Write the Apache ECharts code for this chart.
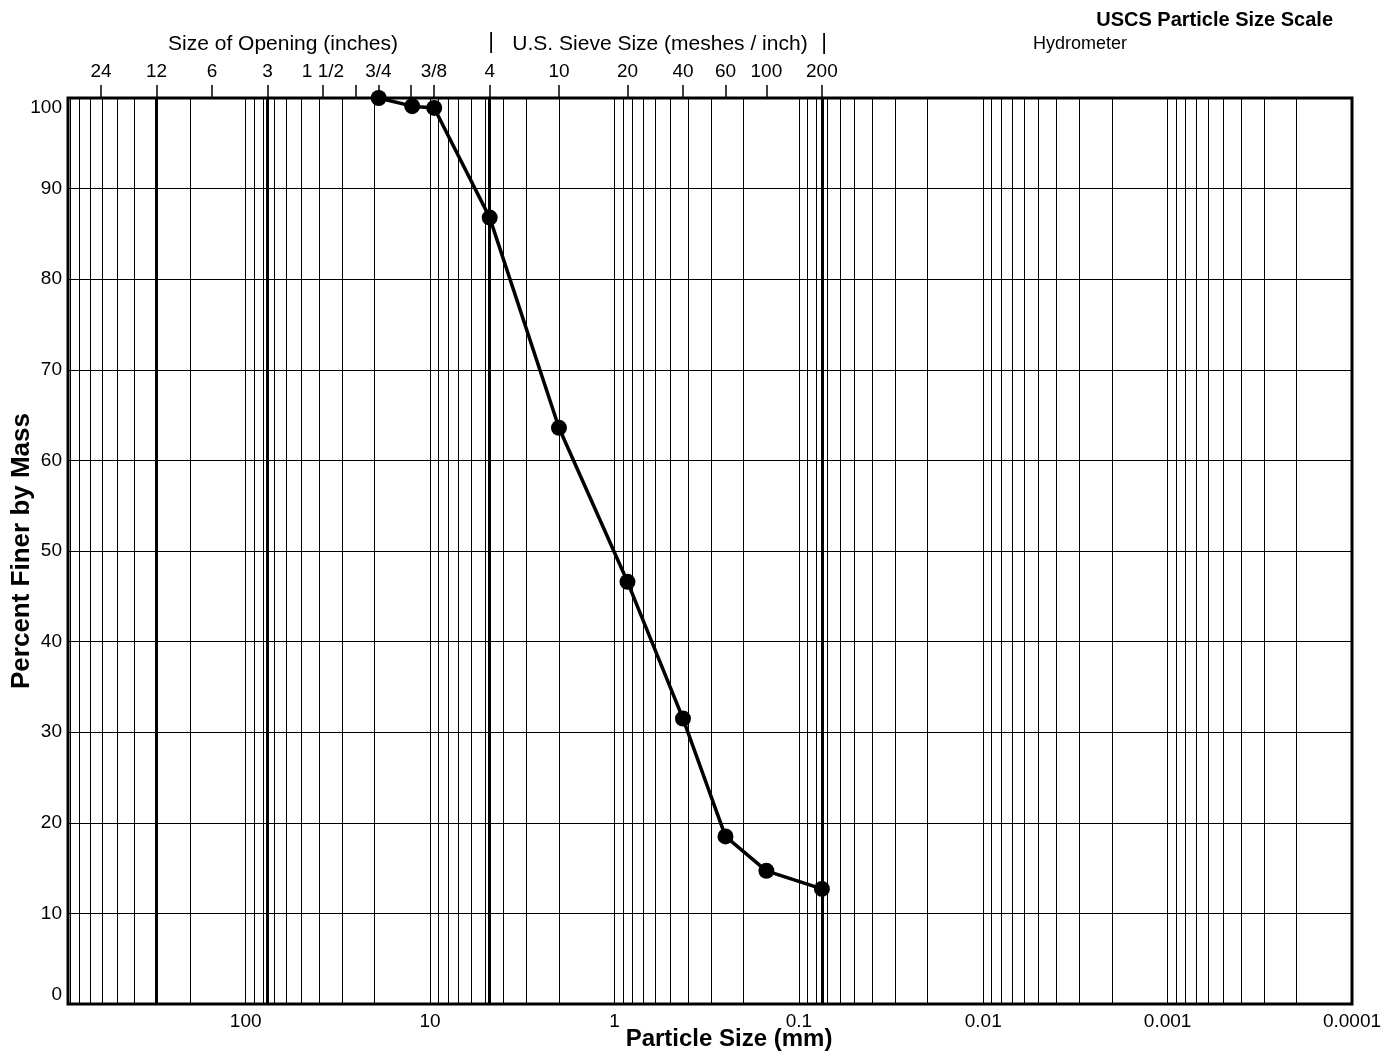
<!DOCTYPE html>
<html>
<head>
<meta charset="utf-8">
<script src="https://cdn.jsdelivr.net/npm/echarts@6/dist/echarts.min.js"></script>
<style>
html,body{margin:0;padding:0;background:#fff;}
#chart{width:1397px;height:1057px;}
</style>
</head>
<body>
<div id="chart"></div>
<script>
// ---- Data ----
const sieveSizeMm = [19.0, 12.5, 9.5, 4.75, 2.0, 0.85, 0.425, 0.25, 0.15, 0.075];
const percentFiner = [100, 99.1, 98.9, 86.8, 63.6, 46.6, 31.5, 18.5, 14.7, 12.7];

const bottomTickValues = [100, 10, 1, 0.1, 0.01, 0.001, 0.0001];

// top scale: inch openings and U.S. sieve numbers, in mm
const topTickValues = [609.6, 304.8, 152.4, 76.2, 38.1, 25.4, 19.05, 12.7, 9.525, 4.75, 2.0, 0.85, 0.425, 0.25, 0.15, 0.075];
const topLabelValues = [609.6, 304.8, 152.4, 76.2, 38.1, 19.05, 9.525, 4.75, 2.0, 0.85, 0.425, 0.25, 0.15, 0.075];
const topLabelTexts = ['24', '12', '6', '3', '1 1/2', '3/4', '3/8', '4', '10', '20', '40', '60', '100', '200'];

// heavy reference lines: 12 in, 3 in, No. 4, No. 200
const heavyLineValues = [304.8, 76.2, 4.75, 0.075];

const yTickMin = 0, yTickMax = 100, yTickStep = 10;
const X_MIN = 0.0001, X_MAX = 920;

// log-paper minor grid values (1..9 x 10^k)
const minorGridValues = [];
for (let e = -4; e <= 2; e++) {
  for (let m = 1; m <= 9; m++) {
    const v = +(m * Math.pow(10, e)).toPrecision(6);
    if (v >= X_MIN && v <= X_MAX) minorGridValues.push(v);
  }
}

const FONT = "'Liberation Sans', Arial, Helvetica, sans-serif";

const markData = minorGridValues.map(v => ({ xAxis: v, lineStyle: { color: '#000', width: 1, type: 'solid' } }))
  .concat(heavyLineValues.map(v => ({ xAxis: v, lineStyle: { color: '#000', width: 3, type: 'solid' } })));

function fmtBottom(v) {
  for (const t of bottomTickValues) {
    if (Math.abs(t - v) / t < 1e-6) return String(t);
  }
  return '';
}
function fmtTop(v) {
  for (let i = 0; i < topLabelValues.length; i++) {
    if (Math.abs(topLabelValues[i] - v) / topLabelValues[i] < 1e-6) return topLabelTexts[i];
  }
  return '';
}

const chart = echarts.init(document.getElementById('chart'), null, { renderer: 'canvas' });

const option = {
  backgroundColor: '#fff',
  animation: false,
  textStyle: { fontFamily: FONT },
  grid: {
    left: 68, right: 45, top: 98, bottom: 53,
    show: true, borderColor: '#000', borderWidth: 3,
    containLabel: false, outerBoundsMode: 'none'
  },
  xAxis: [
    {
      type: 'log', logBase: 10, min: X_MIN, max: X_MAX, inverse: true,
      position: 'bottom',
      name: 'Particle Size (mm)', nameLocation: 'middle', nameGap: 23, nameMoveOverlap: false,
      nameTextStyle: { fontFamily: FONT, fontWeight: 'bold', fontSize: 24, color: '#000', padding: [0, 0, 0, 38] },
      axisLine: { show: false },
      axisTick: { show: false, customValues: bottomTickValues },
      splitLine: { show: false },
      minorSplitLine: { show: false },
      axisLabel: {
        customValues: bottomTickValues,
        formatter: fmtBottom,
        fontFamily: FONT, fontSize: 19, color: '#000', margin: 8,
        showMinLabel: true, showMaxLabel: true, hideOverlap: false
      }
    },
    {
      type: 'log', logBase: 10, min: X_MIN, max: X_MAX, inverse: true,
      position: 'top',
      axisLine: { show: false },
      axisTick: { show: true, customValues: topTickValues, length: 13, inside: false, lineStyle: { color: '#000', width: 1.5 } },
      splitLine: { show: false },
      axisLabel: {
        customValues: topLabelValues,
        formatter: fmtTop,
        fontFamily: FONT, fontSize: 19, color: '#000', margin: 17,
        hideOverlap: false
      }
    }
  ],
  yAxis: {
    type: 'value', min: yTickMin, max: yTickMax, interval: yTickStep,
    name: 'Percent Finer by Mass', nameLocation: 'middle', nameGap: 33, nameMoveOverlap: false,
    nameTextStyle: { fontFamily: FONT, fontWeight: 'bold', fontSize: 26, color: '#000' },
    axisLine: { show: false },
    axisTick: { show: false },
    splitLine: { show: true, lineStyle: { color: '#000', width: 1.2 } },
    axisLabel: {
      fontFamily: FONT, fontSize: 19, color: '#000', margin: 6,
      verticalAlignMinLabel: 'bottom', verticalAlignMaxLabel: 'top'
    }
  },
  series: [
    {
      name: 'grid', type: 'line', xAxisIndex: 0, yAxisIndex: 0, data: [], z: 1,
      silent: true,
      markLine: {
        silent: true, symbol: ['none', 'none'], label: { show: false },
        precision: 10,
        emphasis: { disabled: true },
        animation: false,
        data: markData
      }
    },
    {
      name: 'Percent Finer', type: 'line', xAxisIndex: 0, yAxisIndex: 0, z: 10,
      data: sieveSizeMm.map((d, i) => [d, percentFiner[i]]),
      symbol: 'circle', symbolSize: 16,
      itemStyle: { color: '#000' },
      lineStyle: { color: '#000', width: 3.5 },
      emphasis: { disabled: true },
      clip: false
    }
  ],
  graphic: [
    { type: 'text', x: 283, y: 44, style: { text: 'Size of Opening (inches)', font: '21px ' + FONT, fill: '#000', align: 'center', verticalAlign: 'middle', textAlign: 'center', textVerticalAlign: 'middle' } },
    { type: 'text', x: 491, y: 42, style: { text: '|', font: '22px ' + FONT, fill: '#000', align: 'center', verticalAlign: 'middle', textAlign: 'center', textVerticalAlign: 'middle' } },
    { type: 'text', x: 660, y: 44, style: { text: 'U.S. Sieve Size (meshes / inch)', font: '21px ' + FONT, fill: '#000', align: 'center', verticalAlign: 'middle', textAlign: 'center', textVerticalAlign: 'middle' } },
    { type: 'text', x: 824, y: 43, style: { text: '|', font: '22px ' + FONT, fill: '#000', align: 'center', verticalAlign: 'middle', textAlign: 'center', textVerticalAlign: 'middle' } },
    { type: 'text', x: 1333, y: 20, style: { text: 'USCS Particle Size Scale', font: 'bold 20px ' + FONT, fill: '#000', align: 'right', verticalAlign: 'middle', textAlign: 'right', textVerticalAlign: 'middle' } },
    { type: 'text', x: 1033, y: 44, style: { text: 'Hydrometer', font: '18px ' + FONT, fill: '#000', align: 'left', verticalAlign: 'middle', textAlign: 'left', textVerticalAlign: 'middle' } }
  ]
};

chart.setOption(option);
</script>
</body>
</html>
